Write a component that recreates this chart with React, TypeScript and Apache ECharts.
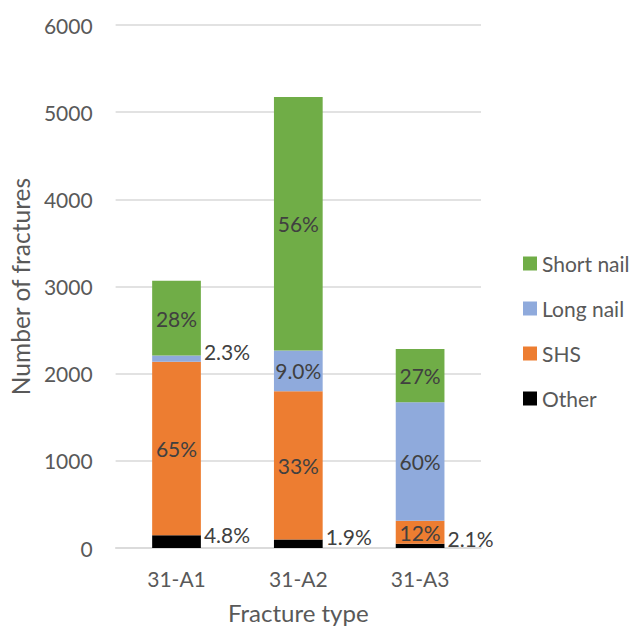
import React, { useEffect, useRef } from "react";
import * as echarts from "echarts";

const categories = ["31-A1", "31-A2", "31-A3"];
const other = [147, 98, 48];
const shs = [1990, 1700, 265];
const longNail = [70, 467, 1360];
const shortNail = [858, 2910, 610];
const yTicks = { min: 0, max: 6000, interval: 1000 };

const FONT = "Lato";
const TEXT = "#595959";
const LABEL = "#404040";

export default function App() {
  const ref = useRef<HTMLDivElement>(null);
  useEffect(() => {
    document.body.style.margin = "0";
    const chart = echarts.init(ref.current!, null, { renderer: "svg" });
    const totals = categories.map((_, i) => other[i] + shs[i] + longNail[i] + shortNail[i]);
    const fmtPct = (v: number, i: number) => {
      const p = (v / totals[i]) * 100;
      return p < 9.95 ? p.toFixed(1) + "%" : Math.round(p) + "%";
    };
    const mkData = (arr: number[]) =>
      arr.map((v, i) => {
        const p = (v / totals[i]) * 100;
        return p < 5
          ? { value: v, label: { position: "right", distance: 3, offset: [0, -7] } }
          : { value: v };
      });
    const mkSeries = (name: string, arr: number[], color: string) => ({
      name,
      type: "bar",
      stack: "total",
      barWidth: "40%",
      data: mkData(arr),
      itemStyle: { color },
      label: {
        show: true,
        position: "inside",
        color: LABEL,
        fontFamily: FONT,
        fontSize: 21,
        formatter: (p: any) => fmtPct(p.value, p.dataIndex),
      },
    });
    chart.setOption({
      animation: false,
      textStyle: { fontFamily: FONT },
      grid: { left: 114, right: 154, top: 25, bottom: 81 },
      legend: {
        orient: "vertical",
        left: 518,
        top: 248,
        itemWidth: 14,
        itemHeight: 14,
        itemGap: 24,
        icon: "rect",
        data: ["Short nail", "Long nail", "SHS", "Other"],
        textStyle: { color: TEXT, fontFamily: FONT, fontSize: 21 },
      },
      xAxis: {
        type: "category",
        data: categories,
        name: "Fracture type",
        nameLocation: "middle",
        nameGap: 52,
        nameTextStyle: { color: TEXT, fontFamily: FONT, fontSize: 24 },
        axisLine: { lineStyle: { color: "#d9d9d9", width: 1.5 } },
        axisTick: { show: false },
        axisLabel: { color: TEXT, fontFamily: FONT, fontSize: 21, margin: 20 },
      },
      yAxis: {
        type: "value",
        min: yTicks.min,
        max: yTicks.max,
        interval: yTicks.interval,
        name: "Number of fractures",
        nameLocation: "middle",
        nameGap: 81,
        nameTextStyle: { color: TEXT, fontFamily: FONT, fontSize: 24.5 },
        axisLine: { show: false },
        axisTick: { show: false },
        axisLabel: {
          color: TEXT,
          fontFamily: FONT,
          fontSize: 21,
          margin: 23,
          formatter: (v: number) => String(v),
        },
        splitLine: { lineStyle: { color: "#d9d9d9", width: 1.5 } },
      },
      series: [
        mkSeries("Other", other, "#000000"),
        mkSeries("SHS", shs, "#ED7D31"),
        mkSeries("Long nail", longNail, "#8FAADC"),
        mkSeries("Short nail", shortNail, "#70AD47"),
      ],
    });
    return () => chart.dispose();
  }, []);
  return <div ref={ref} style={{ width: 635, height: 629 }} />;
}
